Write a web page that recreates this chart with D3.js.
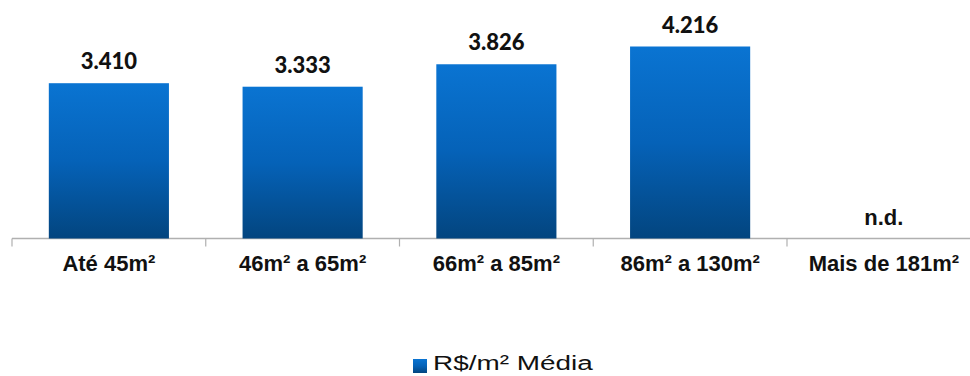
<!DOCTYPE html>
<html>
<head>
<meta charset="utf-8">
<script src="https://cdn.jsdelivr.net/npm/d3@7"></script>
<style>
  body { margin: 0; background: #fff; }
  svg { display: block; }
</style>
</head>
<body>
<svg class="chart"></svg>
<script>
// chart data
let categories = ["Até 45m²", "46m² a 65m²", "66m² a 85m²", "86m² a 130m²", "Mais de 181m²"];
let values = [3410, 3333, 3826, 4216, null];
let valueLabels = ["3.410", "3.333", "3.826", "4.216", "n.d."];
let seriesName = "R$/m² Média";

let svgWidth = 970, svgHeight = 376;
let baseY = 238.5;
let arial = "'Liberation Sans', Arial, sans-serif";

let svg = d3.select('.chart')
    .attr("width", svgWidth)
    .attr("height", svgHeight);

// gradient for the bars
let grad = svg.append("defs").append("linearGradient")
    .attr("id", "barGrad")
    .attr("x1", 0).attr("y1", 0).attr("x2", 0).attr("y2", 1);
grad.append("stop").attr("offset", "0%").attr("stop-color", "#0A74D2");
grad.append("stop").attr("offset", "50%").attr("stop-color", "#0562B8");
grad.append("stop").attr("offset", "100%").attr("stop-color", "#03457F");

let x = d3.scaleBand()
    .domain(categories)
    .range([12, 980.75])
    .paddingInner(0.38)
    .paddingOuter(0.19);

let y = d3.scaleLinear()
    .domain([0, 5000])
    .range([baseY, baseY - 5000 * 192 / 4216]);

let step = x.step();

// axis line and ticks
svg.append("line")
    .attr("x1", 12).attr("x2", svgWidth)
    .attr("y1", baseY).attr("y2", baseY)
    .attr("stroke", "#B0B0B0")
    .attr("stroke-width", 1.5);

svg.selectAll(".tick")
    .data(categories)
    .enter()
    .append("line")
    .attr("x1", function (d) { return x(d) - step * 0.19; })
    .attr("x2", function (d) { return x(d) - step * 0.19; })
    .attr("y1", baseY)
    .attr("y2", baseY + 8)
    .attr("stroke", "#B0B0B0")
    .attr("stroke-width", 1.2);

let data = categories.map(function (c, i) {
    return { cat: c, value: values[i], label: valueLabels[i] };
});

svg.selectAll("rect.bar")
    .data(data.filter(function (d) { return d.value !== null; }))
    .enter()
    .append("rect")
    .attr("class", "bar")
    .attr("x", function (d) { return x(d.cat); })
    .attr("y", function (d) { return y(d.value); })
    .attr("width", x.bandwidth())
    .attr("height", function (d) { return y(0) - y(d.value); })
    .attr("fill", "url(#barGrad)");

// value labels
svg.selectAll("text.val")
    .data(data)
    .enter()
    .append("text")
    .attr("class", "val")
    .attr("x", function (d) { return x(d.cat) + x.bandwidth() / 2; })
    .attr("y", function (d) { return d.value === null ? 225 : y(d.value) - 14; })
    .attr("text-anchor", "middle")
    .style("font-family", function (d) { return d.value === null ? arial : "Lato, sans-serif"; })
    .style("font-weight", function (d) { return d.value === null ? "bold" : "900"; })
    .style("font-size", "22px")
    .style("fill", "#111")
    .text(function (d) { return d.label; });

// category labels
svg.selectAll("text.cat")
    .data(categories)
    .enter()
    .append("text")
    .attr("class", "cat")
    .attr("x", function (d) { return x(d) + x.bandwidth() / 2; })
    .attr("y", 271)
    .attr("text-anchor", "middle")
    .style("font-family", arial)
    .style("font-weight", "bold")
    .style("font-size", "22px")
    .style("fill", "#111")
    .text(function (d) { return d; });

// legend (the original is stretched sideways)
let legend = svg.append("g");
legend.append("rect")
    .attr("x", 413).attr("y", 359)
    .attr("width", 14).attr("height", 14)
    .attr("fill", "url(#barGrad)");
legend.append("text")
    .attr("transform", "translate(433,370) scale(1.33,1)")
    .style("font-family", arial)
    .style("font-size", "21px")
    .style("fill", "#111")
    .text(seriesName);
</script>
</body>
</html>
